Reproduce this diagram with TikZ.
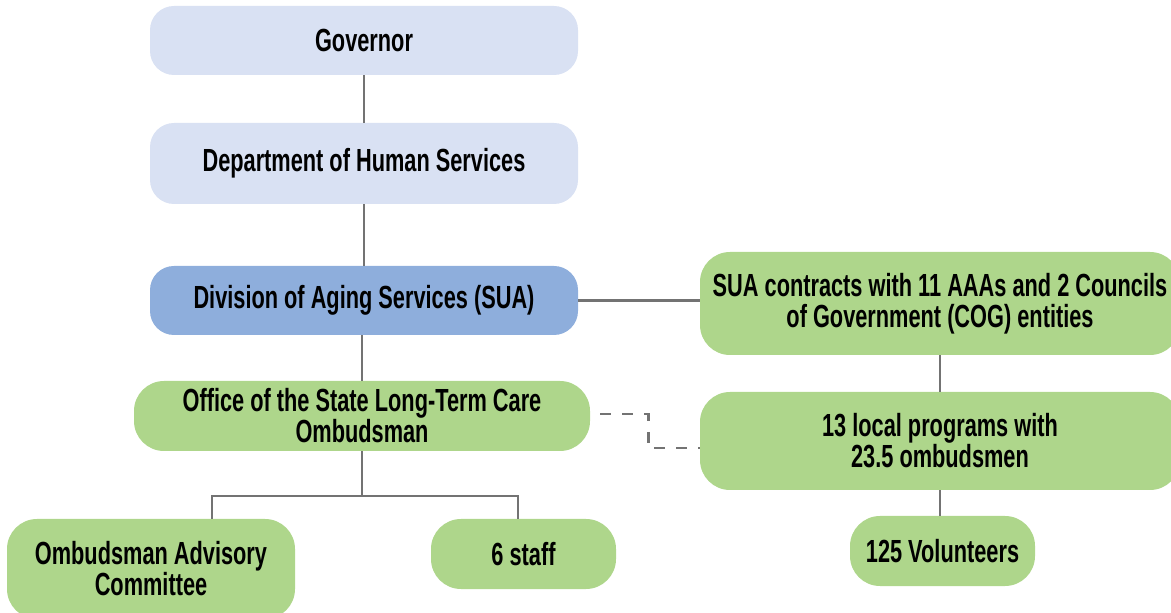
\documentclass[tikz,border=0pt]{standalone}
\usepackage{fontspec}
\setmainfont{Liberation Sans}[FakeStretch=0.68]
\definecolor{govblue}{HTML}{D9E1F3}
\definecolor{suablue}{HTML}{8EAEDC}
\definecolor{ombgreen}{HTML}{AED68B}
\definecolor{linkgray}{HTML}{737373}
\usetikzlibrary{positioning}

\begin{document}
\begin{tikzpicture}[x=0.5pt, y=-0.5pt,
    orgbox/.style={rounded corners=12pt, align=center, inner sep=0pt,
      font=\bfseries\fontsize{16}{15.5}\selectfont},
    lightbox/.style={orgbox, fill=govblue, minimum width=214pt},
    greenbox/.style={orgbox, fill=ombgreen, rounded corners=15pt},
    link/.style={draw=linkgray, line width=1.1pt},
    dashlink/.style={link, line width=1.4pt, dash pattern=on 5.5pt off 5.5pt}]
  \useasboundingbox (0,0) rectangle (1171,613);
  \clip (0,0) rectangle (1171,613);

  % state chain
  \node[lightbox, minimum height=34.5pt] (gov) at (364,40.5) {Governor};
  \node[lightbox, minimum height=40.5pt] (dhs) at (364,163.5)
    {Department of Human Services};
  \node[lightbox, fill=suablue, minimum height=34.5pt] (das) at (364,300.5)
    {Division of Aging Services (SUA)};
  \node[greenbox, minimum width=228pt, minimum height=35pt] (ltc) at (362,416)
    {Office of the State Long-Term Care\\Ombudsman};
  \node[greenbox, minimum width=144pt, minimum height=50pt] (oac) at (151,569)
    {Ombudsman Advisory\\Committee};
  \node[greenbox, minimum width=92.5pt, minimum height=35pt] (staff) at (523.5,554)
    {6 staff};

  % local side
  \node[greenbox, minimum width=240pt, minimum height=51.5pt] (sua) at (940,303.5)
    {SUA contracts with 11 AAAs and 2 Councils\\of Government (COG) entities};
  \node[greenbox, minimum width=240pt, minimum height=49pt] (local) at (940,441)
    {13 local programs with\\23.5 ombudsmen};
  \node[greenbox, minimum width=92.5pt, minimum height=35pt] (vol) at (942.5,551)
    {125 Volunteers};

  \coordinate (fork) at (362,496);
  \draw[link] (gov) -- (dhs);
  \draw[link] (dhs) -- (das);
  \draw[link] (das.south -| ltc) -- (ltc);
  \draw[link] (ltc) -- (fork);
  \draw[link] (fork) -| ([xshift=30.5pt]oac.north);
  \draw[link] (fork) -| ([xshift=-2.75pt]staff.north);
  \draw[link] (das.east) -- (das.east -| sua.west);
  \draw[link] (sua) -- (local);
  \draw[link] (local.south) -- (local.south |- vol.north);
  \draw[dashlink] ([xshift=5pt,yshift=1pt]ltc.east) -- ++(48,0)
    |- ([yshift=-3.5pt]local.west);
\end{tikzpicture}
\end{document}
